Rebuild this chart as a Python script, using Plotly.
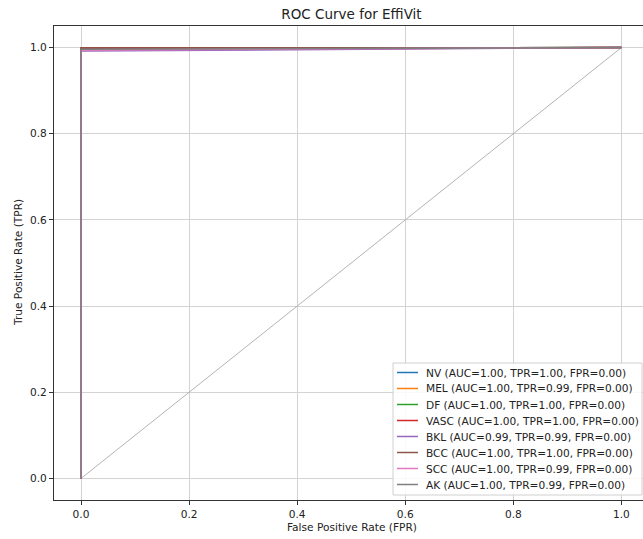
import plotly.graph_objects as go

classes = ["NV", "MEL", "DF", "VASC", "BKL", "BCC", "SCC", "AK"]
auc_vals = [1.00, 1.00, 1.00, 1.00, 0.99, 1.00, 1.00, 1.00]
tpr_vals = [1.00, 0.99, 1.00, 1.00, 0.99, 1.00, 0.99, 0.99]
fpr_vals = [0.00, 0.00, 0.00, 0.00, 0.00, 0.00, 0.00, 0.00]
colors = ["#1f77b4", "#ff7f0e", "#2ca02c", "#d62728", "#9467bd", "#8c564b", "#e377c2", "#7f7f7f"]

# ROC curve points per class
curve_fpr = {
    "NV": [0, 0, 1],
    "MEL": [0, 0, 1],
    "DF": [0, 0, 1],
    "VASC": [0, 0, 1],
    "BKL": [0, 0, 1],
    "BCC": [0, 0, 1],
    "SCC": [0, 0, 1],
    "AK": [0, 0, 1],
}
curve_tpr = {
    "NV": [0, 0.999, 1],
    "MEL": [0, 0.994, 1],
    "DF": [0, 0.999, 1],
    "VASC": [0, 0.999, 1],
    "BKL": [0, 0.992, 1],
    "BCC": [0, 0.999, 1],
    "SCC": [0, 0.994, 1],
    "AK": [0, 0.996, 1],
}

diag_x = [0, 1]
diag_y = [0, 1]

x_ticks = [0.0, 0.2, 0.4, 0.6, 0.8, 1.0]
y_ticks = [0.0, 0.2, 0.4, 0.6, 0.8, 1.0]

# layout geometry (pixels)
W, H = 643, 539
L, R, T, B = 54, 0, 26, 39
PW, PH = W - L - R, H - T - B


def px(xp):
    return (xp - L) / PW


def py(yp):
    return (H - B - yp) / PH


fig = go.Figure()
fig.add_trace(go.Scatter(x=diag_x, y=diag_y, mode="lines",
                         line=dict(color="#a0a0a0", width=0.8),
                         showlegend=False, hoverinfo="skip"))
labels = []
for i, c in enumerate(classes):
    lab = f"{c} (AUC={auc_vals[i]:.2f}, TPR={tpr_vals[i]:.2f}, FPR={fpr_vals[i]:.2f})"
    labels.append(lab)
    fig.add_trace(go.Scatter(
        x=curve_fpr[c], y=curve_tpr[c], mode="lines",
        line=dict(color=colors[i], width=1.5),
        name=lab, showlegend=False,
    ))

# manual legend (matplotlib-like compact spacing)
shapes = [dict(type="rect", xref="paper", yref="paper",
               x0=px(393), x1=px(642), y0=py(495), y1=py(363),
               fillcolor="rgba(255,255,255,0.85)", line=dict(color="#d0d0d0", width=1),
               layer="above")]
annotations = []
for i, lab in enumerate(labels):
    yc = 372.5 + 16 * i
    shapes.append(dict(type="line", xref="paper", yref="paper",
                       x0=px(397), x1=px(418), y0=py(yc), y1=py(yc),
                       line=dict(color=colors[i], width=1.5), layer="above"))
    annotations.append(dict(x=px(424), y=py(yc), xref="paper", yref="paper",
                            text=lab, showarrow=False, xanchor="left", yanchor="middle",
                            font=dict(size=10.6, color="#222")))

font_family = "DejaVu Sans"
fig.update_layout(
    width=W, height=H,
    margin=dict(l=L, r=R, t=T, b=B),
    paper_bgcolor="white", plot_bgcolor="white",
    font=dict(family=font_family, size=10.6, color="#222"),
    title=dict(text="ROC Curve for EffiVit", xref="paper", x=px(351.5), xanchor="center",
               yref="container", y=1 - 14/H, yanchor="middle",
               font=dict(size=13.5, color="#222")),
    shapes=shapes,
    annotations=annotations,
    showlegend=False,
)
fig.update_xaxes(
    range=[-0.05, 1.04], tickvals=x_ticks, ticktext=[f"{v:.1f}" for v in x_ticks],
    showgrid=True, gridcolor="#d3d3d3", gridwidth=0.8, zeroline=False,
    showline=True, linecolor="#333", linewidth=1, mirror=True,
    ticks="outside", ticklen=4, tickcolor="#333",
    tickfont=dict(size=10.6),
)
fig.update_yaxes(
    range=[-0.05, 1.05], tickvals=y_ticks, ticktext=[f"{v:.1f}" for v in y_ticks],
    showgrid=True, gridcolor="#d3d3d3", gridwidth=0.8, zeroline=False,
    showline=True, linecolor="#333", linewidth=1, mirror=True,
    ticks="outside", ticklen=4, tickcolor="#333",
    tickfont=dict(size=10.6),
)
# axis titles placed as annotations at the reference positions
fig.add_annotation(x=px(351.5), y=py(527), xref="paper", yref="paper",
                   text="False Positive Rate (FPR)", showarrow=False,
                   xanchor="center", yanchor="middle", font=dict(size=10.6, color="#222"))
fig.add_annotation(x=px(18), y=py(263), xref="paper", yref="paper",
                   text="True Positive Rate (TPR)", showarrow=False, textangle=-90,
                   xanchor="center", yanchor="middle", font=dict(size=10.6, color="#222"))

fig.write_html("out.html", config={"displayModeBar": False},
               post_script="document.body.style.margin='0';document.body.style.overflow='hidden';")
